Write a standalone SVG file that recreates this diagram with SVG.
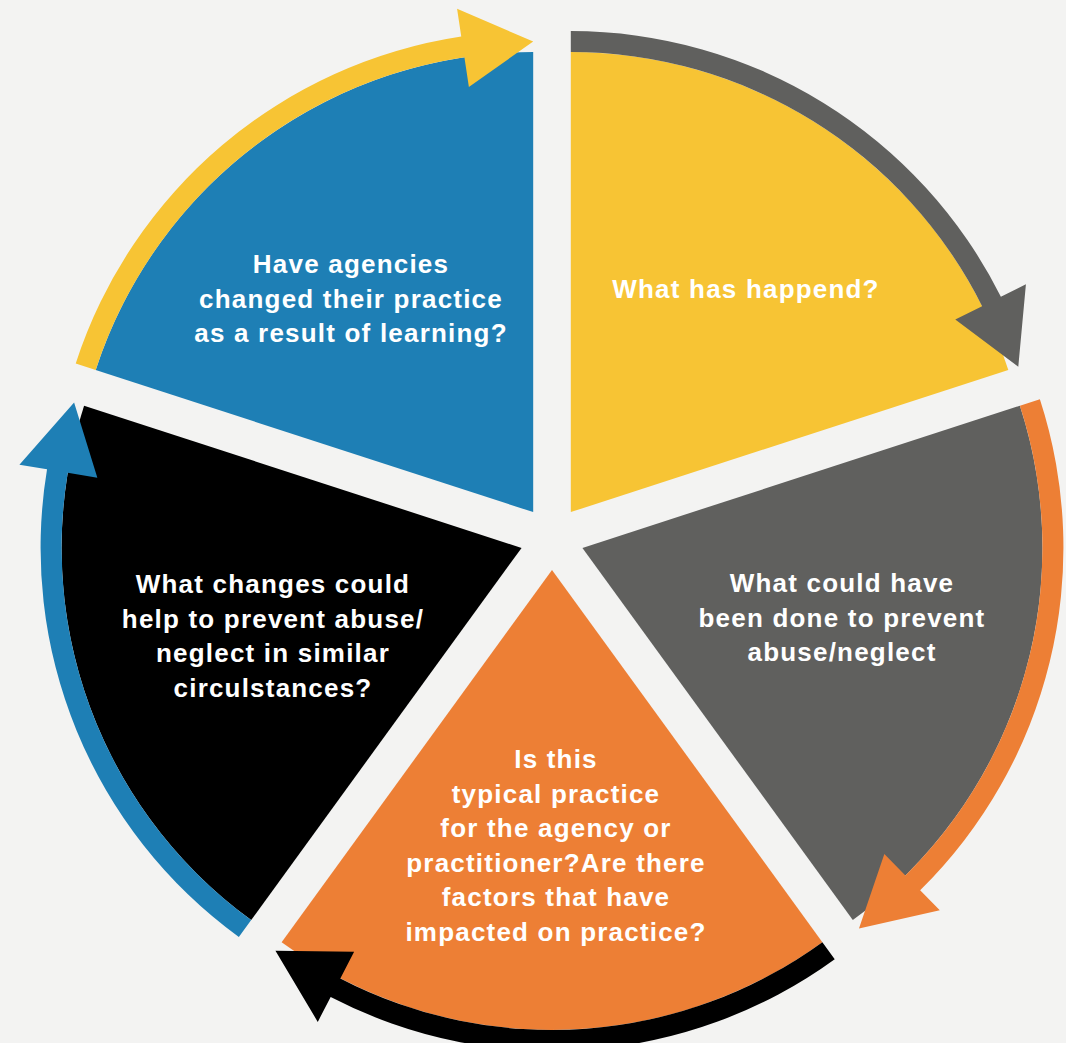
<svg xmlns="http://www.w3.org/2000/svg" width="1066" height="1043" viewBox="0 0 1066 1043">
<style>
.bg{fill:#f3f3f2}
.yellow{fill:#f7c434}
.gray{fill:#60605e}
.orange{fill:#ed7f35}
.black{fill:#000000}
.blue{fill:#1e7fb5}
.lbl{font-family:"Liberation Sans",Arial,Helvetica,sans-serif;font-weight:bold;font-size:26px;letter-spacing:1.2px;fill:#ffffff;text-anchor:middle}
</style>
<rect class="bg" x="0" y="0" width="1066" height="1043"/>
<g id="node-what-happened">
<path class="yellow" d="M570.81,512.11 L570.81,52.11 A460,460 0 0 1 1008.30,369.96 Z"/>
<text class="lbl" x="746" y="297.5">What has happend?</text>
</g>
<g id="node-what-could-have-been-done">
<path class="gray" d="M582.43,547.89 L1019.92,405.74 A460,460 0 0 1 852.81,920.04 Z"/>
<text class="lbl" x="842" y="592"><tspan x="842" y="592">What could have</tspan><tspan x="842" y="626.5">been done to prevent</tspan><tspan x="842" y="661">abuse/neglect</tspan></text>
</g>
<g id="node-typical-practice">
<path class="orange" d="M552,570 L822.38,942.15 A460,460 0 0 1 281.62,942.15 Z"/>
<text class="lbl" x="556" y="768"><tspan x="556" y="768">Is this</tspan><tspan x="556" y="802.5">typical practice</tspan><tspan x="556" y="837">for the agency or</tspan><tspan x="556" y="871.5">practitioner?Are there</tspan><tspan x="556" y="906">factors that have</tspan><tspan x="556" y="940.5">impacted on practice?</tspan></text>
</g>
<g id="node-what-changes">
<path class="black" d="M521.57,547.89 L251.19,920.04 A460,460 0 0 1 84.08,405.74 Z"/>
<text class="lbl" x="273" y="593"><tspan x="273" y="593">What changes could</tspan><tspan x="273" y="627.5">help to prevent abuse/</tspan><tspan x="273" y="662">neglect in similar</tspan><tspan x="273" y="696.5">circulstances?</tspan></text>
</g>
<g id="node-agencies-changed">
<path class="blue" d="M533.19,512.11 L95.70,369.96 A460,460 0 0 1 533.19,52.11 Z"/>
<text class="lbl" x="351" y="273"><tspan x="351" y="273">Have agencies</tspan><tspan x="351" y="307.5">changed their practice</tspan><tspan x="351" y="342">as a result of learning?</tspan></text>
</g>
<g id="connectors">
<path class="gray" d="M570.81,31.11 A481,481 0 0 1 1000.88,296.75 L1025.92,284.21 L1018.29,366.72 L955.28,319.58 L982.11,306.15 A460,460 0 0 0 570.81,52.11 Z"/>
<path class="orange" d="M1039.89,399.25 A481,481 0 0 1 920.15,890.36 L939.81,910.30 L858.98,928.54 L884.35,854.05 L905.41,875.41 A460,460 0 0 0 1019.92,405.74 Z"/>
<path class="black" d="M834.73,959.14 A481,481 0 0 1 330.65,997.02 L317.77,1021.88 L275.45,950.65 L354.12,951.75 L340.32,978.38 A460,460 0 0 0 822.38,942.15 Z"/>
<path class="blue" d="M238.84,937.03 A481,481 0 0 1 47.04,469.33 L19.42,464.76 L74.10,402.50 L97.36,477.66 L67.76,472.76 A460,460 0 0 0 251.19,920.04 Z"/>
<path class="yellow" d="M75.73,363.47 A481,481 0 0 1 461.26,36.52 L457.08,8.83 L533.19,41.61 L468.89,86.94 L464.40,57.28 A460,460 0 0 0 95.70,369.96 Z"/>
</g>
</svg>
